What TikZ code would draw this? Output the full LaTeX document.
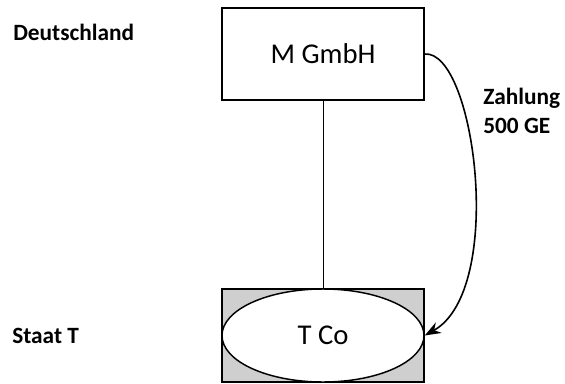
\documentclass[tikz,border=0pt]{standalone}
\usepackage{fontspec}
\setmainfont{Carlito}
\usetikzlibrary{shapes.geometric,arrows.meta}
\tikzset{>={Stealth[length=12pt,width=9pt]}}
\definecolor{boxgray}{RGB}{207,207,207}

\begin{document}
\begin{tikzpicture}[x=0.75pt,y=-0.75pt,
    box/.style={draw,line width=1.1pt,inner sep=0pt,minimum width=151.5pt,minimum height=69.75pt,font=\fontsize{21.5}{26}\selectfont},
    lbl/.style={font=\bfseries\fontsize{17.5}{21.75}\selectfont,inner sep=0pt}]
    \useasboundingbox (0,0) rectangle (565,383);

    \node[box,minimum height=69pt] (mgmbh) at (323,54) {M GmbH};

    \node[box,fill=boxgray] (tcobox) at (323,335.5) {};
    \node[box,ellipse,fill=white] (tco) at (tcobox.center) {T Co};

    \draw[line width=0.75pt] (mgmbh.south) -- (tcobox.north);
    \draw[->,line width=1.2pt] (mgmbh.east) .. controls (475,50) and (506,290) .. (tco.east);

    \node[lbl,anchor=base west] (de) at (13,40) {Deutschland};
    \node[lbl,anchor=base west] (staat) at (12,343) {Staat T};
    \node[lbl,anchor=base west,align=left] (zahlung) at (483,133) {Zahlung\\500 GE};
\end{tikzpicture}
\end{document}
